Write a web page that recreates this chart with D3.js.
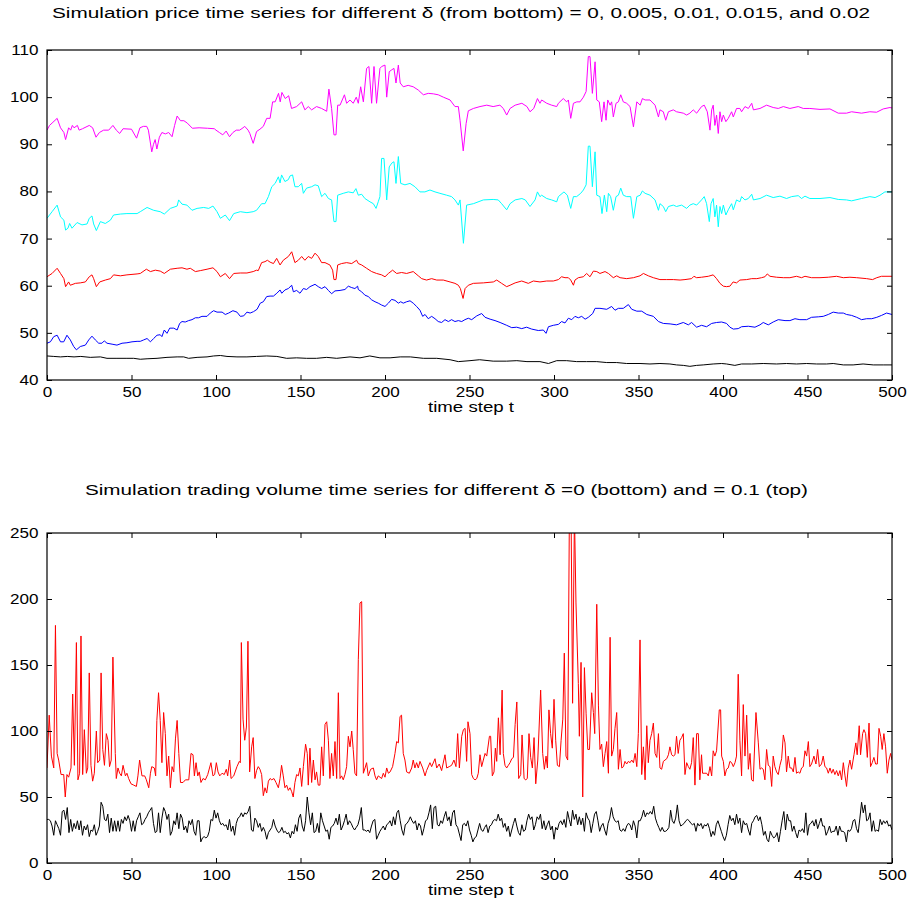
<!DOCTYPE html>
<html><head><meta charset="utf-8">
<script src="https://cdn.jsdelivr.net/npm/d3@7"></script>
<style>
body{margin:0;background:#fff;}
svg{display:block;font-family:"Liberation Sans",Arial,Helvetica,sans-serif;}
</style></head>
<body><svg id="chart" width="910" height="901"></svg>
<script>
// ---------- DATA ----------
const priceTitle = "Simulation price time series for different \u03b4 (from bottom) = 0, 0.005, 0.01, 0.015, and 0.02";
const volumeTitle = "Simulation trading volume time series for different \u03b4 =0 (bottom) and = 0.1 (top)";
const xLabel = "time step t";
const xTicks = [0,50,100,150,200,250,300,350,400,450,500];
const priceTicks = [40,50,60,70,80,90,100,110];
const volumeTicks = [0,50,100,150,200,250];

// price, delta = 0.02 (magenta)  [t, price]
const priceD020 = [[0,93],[1.5,94],[3,94.5],[6,95.5],[8,93.5],[10,92.5],[11,91],[12.8,93.5],[14,93],[15,94],[16,93.5],[18,94],[19,93],[21,93.3],[25,94],[27,93.5],[29,91.5],[31,92.5],[33.5,93],[36.5,93],[39,94],[41,93],[43,92.3],[45,93.3],[50,93.2],[53,91.3],[55,93.5],[57,93.8],[59,93.8],[60,93],[62,88.4],[63,90],[64,91],[65,89],[66.5,91.5],[68,92.5],[70,92.2],[72,92.5],[74,91.6],[75.5,94],[77,96],[79,95],[81,95],[83,94.5],[86,93.4],[90,93.5],[95,93.4],[99,93.3],[100,93],[102,92.5],[104,92],[106,92.8],[108,91.6],[110,92.5],[112,93],[114,93],[116,93.5],[117,93.8],[119,93],[120,92.3],[122,90.2],[124,92.7],[126,93.2],[128,93.8],[130,95.5],[132,95.5],[133.5,99],[135,99],[137,100.8],[138,99],[139,101],[141,99.7],[143,100.3],[144.7,97.6],[147.7,98],[150.7,99],[152.6,97.3],[154.6,98],[156.6,97.3],[159.5,98],[162.5,97.6],[165.5,97],[166.8,101.7],[168.4,97.6],[169.8,92],[171,92],[172,98.3],[173.4,98.3],[176,100.5],[177.3,98.7],[179.3,99.4],[181.2,98.7],[183,100],[184.2,98.7],[185.6,102.2],[187.2,99],[189.1,106.1],[190.5,106.5],[192.1,98.7],[193.5,106.5],[195,98.7],[197,106.1],[198,106.5],[200,106.8],[201,100],[202.5,105.4],[204,105.8],[205.3,106.1],[206.5,103],[207.9,106.8],[209,103],[210.8,102.2],[213.7,102.5],[216.7,102.2],[219.7,101.5],[222.7,100.5],[225.6,100.8],[228.6,100.7],[231.5,100.5],[234.5,100],[238.5,99.4],[241.4,98],[243.4,98],[244.4,95.1],[246.3,88.6],[248,94.4],[249.3,97.1],[252.3,97.6],[256.2,98],[260.2,98.3],[264,98],[268,98.3],[270,97.6],[272,96.2],[274,97.6],[277,98.3],[281,98.7],[284,98],[285.8,96.9],[288,97.6],[290.2,99.7],[291.7,98.7],[292.7,99.4],[295.7,98.7],[298.6,98.3],[301.6,98],[302.6,98.7],[305.5,99.7],[307.5,99],[308.5,99.4],[309.9,95.5],[311.5,98.7],[313.5,99],[315.4,99],[317.4,100],[319,101.2],[320.3,108.6],[321.3,108.6],[322.7,100.8],[324.3,107.5],[325.3,99.4],[326.8,99],[328.2,94.8],[329.6,99],[330.8,95.1],[331.8,99.4],[333.2,98.3],[334.1,99],[335.1,95.8],[336.7,98.7],[338.1,99],[339.5,100.5],[341,99],[343,98.7],[345,98],[347,93.7],[349,99],[351,98.3],[352.3,99.7],[353.9,99.4],[356.8,99.4],[359.8,98.3],[361.8,95.8],[362.7,97.3],[364.7,96.9],[366.1,95.1],[367.7,96.9],[370.6,97.3],[372.5,96.9],[376.5,96.6],[378.5,96.2],[380.4,96.6],[382.4,97.3],[384.4,96.6],[387.3,98],[388.9,98.3],[390.7,96.9],[392.3,93],[393.3,97.3],[394.2,98.3],[395.2,94],[396.2,96.2],[397.2,92.3],[398.2,96.9],[399.2,94.8],[400.2,96.2],[401.7,94.8],[403.1,95.5],[405.1,96.9],[406.1,95.8],[408,97.6],[410,97.6],[411,96.9],[413,98],[415,97.6],[417,98.7],[418,97.3],[421.9,97.6],[425.8,98.3],[429.7,97.8],[432.7,97.6],[435.7,98],[439.6,97.6],[444.5,98],[447.5,97.6],[451.4,97.6],[457.4,97.4],[463.3,97.5],[468.2,96.6],[473.1,96.6],[476.1,96.9],[482,96.6],[486.9,96.9],[490.9,96.8],[494.8,97.5],[498.8,97.8],[500,97.7]];

// price, delta = 0.015 (cyan)
const priceD015 = [[0,74.3],[3,75.7],[6,77.1],[8,74.6],[10,73.9],[11,71.8],[12.4,72.2],[13.4,73.2],[14.8,72.2],[17.8,73.4],[20.7,72.9],[23.7,73.1],[25,74.3],[26.6,74.8],[27.6,73.1],[29.2,71.7],[31.6,73.6],[34.5,73.2],[37.5,73.9],[39.4,75],[43.4,75.2],[47.3,75.3],[53.3,75.3],[55.2,75.7],[59.2,76.6],[63.1,76],[67,75.7],[69.4,75.2],[73,76.4],[77,76.9],[77.9,78.2],[79.9,77.3],[82.8,77.1],[85.8,76],[88.8,76.4],[92.7,76.6],[95.7,76.4],[98.2,76.9],[100.6,75.7],[102.6,74.3],[105.5,75],[108,73.8],[110.5,75.3],[114.4,75.7],[118.3,75.5],[122,75.7],[124,76],[127,77.4],[129,77.4],[131,78.9],[133,81],[135,81.7],[136.9,83.1],[137.9,81.8],[138.8,83.5],[140.8,82.1],[142.8,82.5],[143.8,83.3],[145.3,83.5],[146.7,81],[148.7,81],[150.7,81.7],[151.7,79.6],[153.6,80.7],[156.6,81],[158.6,81.4],[160.5,81.2],[162.5,78.9],[164.5,79.6],[166.5,78.5],[168.4,78.2],[169.8,73.6],[171,73.6],[172,79.2],[175.3,79.6],[178.3,79.9],[181.2,79.7],[182.8,80.6],[184.2,79.2],[186.2,79.4],[188.1,78.5],[191.1,77.8],[193.1,77.4],[194.7,76.4],[196,77.8],[197,78.9],[198,87],[199.4,87],[201,78.2],[202.5,85.2],[204,86],[205.3,86.3],[206.5,81.7],[207.9,87.4],[209.3,81.7],[211.8,81.4],[214.8,81.7],[217.7,81],[220.7,79.9],[223.6,79.9],[226.6,80.3],[229.6,79.9],[232.5,79.6],[236.5,79.2],[239.4,78.9],[241.4,78.2],[243.4,77.1],[244.4,78.2],[246.4,69],[248.3,77.1],[252.3,77.4],[258.2,78.2],[264,78.3],[267,78.2],[269,77.4],[272,76.1],[274,77.4],[277,78.2],[281,78.5],[283,78.2],[285.8,76.8],[288.8,78.2],[290.2,79.9],[291.7,78.9],[292.7,79.2],[295.7,78.5],[298.6,78.2],[301.6,77.8],[302.6,78.9],[305.9,79.9],[307.9,79.2],[309.9,76.4],[311.5,78.9],[313.4,78.9],[315.8,79.6],[317.4,80.3],[319,81.4],[320.3,89.6],[321.3,89.6],[322.7,81],[324.3,88.4],[325.3,79.2],[327.2,78.9],[328.4,75.3],[329.8,79.2],[331.2,75.7],[332.2,79.6],[333.5,78.9],[335.1,76],[336.7,78.9],[338.1,79.2],[339.5,80.7],[341,79.2],[343,78.9],[345.4,78.9],[347,74.3],[349,78.9],[351,79.2],[352.3,80.1],[353.9,79.6],[356.8,79.2],[359.8,78.2],[361.8,76],[362.7,77.4],[364.7,76.8],[366.1,75.7],[367.7,76.8],[370.6,77.1],[372.5,76.8],[375.5,77.1],[378.5,76.4],[380.4,77.1],[382.4,77.4],[384.4,77.1],[387.3,78.2],[388.9,78.9],[390.3,77.4],[391.9,73.6],[392.9,77.4],[394.2,78.5],[395.2,74.6],[396.2,77.1],[397.2,72.5],[398.2,76.8],[399.2,75.3],[400.2,77.1],[401.7,75],[403.1,76.1],[405.1,77.4],[406.1,76.1],[408,78.2],[410,77.8],[411,78.9],[413,78.2],[415,78.5],[417,79.4],[418,78.2],[421.9,78.5],[425.8,79.2],[429.7,78.7],[433.7,79],[437.6,78.5],[440.6,78.9],[444.5,79.1],[446.5,78.5],[448.5,79],[451.4,78.5],[457.4,78.5],[463.3,78.7],[468.2,78.3],[473.1,78.2],[476.1,78],[482,78.5],[486.9,78.9],[490,78.7],[492.9,79.2],[495.8,79.9],[500,79.9]];

// price, delta = 0.01 (red)
const priceD010 = [[0,61.9],[3,62.6],[6,63.7],[8,62.6],[10,61.5],[11,59.8],[12.8,60.8],[13.8,60.1],[16.8,60.5],[19.7,60.6],[22.7,60.8],[25,61.9],[26.6,62.3],[27.6,61.5],[29.2,59.8],[31.2,60.8],[34.5,61.2],[37.5,61.5],[39.4,62.3],[43.4,62.1],[47.3,62.3],[53.3,62.5],[55.2,62.6],[58.8,63.5],[61.2,63],[64.1,63.3],[67,63.1],[69.4,62.6],[73,63.5],[77,63.7],[79.9,63.8],[82.8,63.5],[84.8,63.7],[87.8,63],[90.7,63.2],[94.7,63.5],[98.2,63.8],[100.6,63],[102.6,61.9],[105.5,62.6],[108,61.5],[110.5,62.6],[114.4,62.7],[118.3,62.7],[122,63],[124,63.3],[125,63.2],[127,64.9],[129,65.1],[130.4,65.4],[132,65],[134,64.7],[135.9,65.8],[137.9,64.4],[139.8,65.4],[142.8,66.2],[144.8,67.2],[146.7,64.9],[148.7,65.4],[150.7,66.2],[152.6,65.4],[154.6,66.2],[156.6,65.8],[158.6,66.9],[160.5,66.2],[162.5,64.9],[164.5,64.9],[167.4,64.4],[169,63.3],[169.8,61.3],[171,61.3],[172,64.4],[174.3,64.7],[177.3,64.9],[180.3,64.7],[183.2,65.4],[184.2,64.7],[186.2,64.4],[189.1,63.7],[192.1,63],[195,62.6],[198,62.3],[200,61.9],[202,62.6],[204.5,63.3],[206.9,62.6],[209.8,62.8],[212.8,62.6],[216.7,63],[219.7,62.1],[221.7,61.5],[224.6,61.2],[227.6,61.5],[230.6,61.2],[234.5,61.2],[238.5,60.8],[241.4,60.5],[243.4,60.1],[244.6,59.4],[246.2,57.3],[247.4,59.4],[249.3,60.1],[252.3,60.5],[258.2,60.6],[264.1,60.8],[266.1,61.2],[269,60.5],[272,59.8],[274,60.1],[277,60.6],[280.9,61],[284.8,60.5],[287.8,61],[291.7,60.8],[295.7,61],[299.6,61],[302.6,61.3],[304.5,61.9],[306.5,61.7],[308.5,61.7],[309.9,61.2],[311.5,60.1],[312.4,61.2],[314.4,61.7],[317.4,61.9],[319.3,62.6],[321.3,61.9],[323.3,63.1],[325.3,63],[327.2,62.6],[330.2,63],[332.2,62.6],[335.1,61.7],[337.1,62.1],[339.1,61.7],[343,61.5],[347,61.7],[350.9,62.1],[352.9,62.6],[355.8,62.1],[358.8,61.7],[362.7,61.3],[366.7,61.3],[370.6,61.3],[374.6,61.2],[377.5,61.3],[381.4,61.5],[382.8,62],[384.4,61.7],[387.3,61.8],[391.3,62],[394.2,62.3],[396.2,61.5],[398.2,60.5],[400.2,59.9],[402.1,59.8],[404.1,59.9],[406,60.8],[408,60.6],[410,61.2],[414,61.3],[417,61.5],[420,61.5],[422.8,61.7],[424.8,61.9],[426.2,62.5],[427.8,62],[431.7,61.8],[435.7,61.7],[439.6,61.7],[443.5,62],[446.5,61.7],[448.5,62],[452.4,61.7],[457.4,61.7],[462.3,61.8],[467.2,62],[471.2,61.7],[475.1,61.8],[479.1,61.7],[485,61.5],[488.5,61.3],[491,61.7],[493.8,62],[500,62]];

// price, delta = 0.005 (blue)
const priceD005 = [[0,47.8],[2,48.1],[4,49.2],[6,49.5],[8,48.1],[9.9,48.1],[11.8,49.5],[13.8,48.5],[15.8,47.1],[17.4,46.4],[19.7,47.1],[22.7,47.4],[24.7,48.5],[26.6,49.3],[28.6,48.5],[30.6,47.8],[32.5,47.8],[33.9,48.3],[35.5,47.8],[38.5,47.6],[41.4,47.4],[44.4,47.8],[47.3,47.9],[50.3,48.1],[53.3,48.2],[55.2,48.2],[57.2,48.5],[59.2,48.8],[61.2,48.1],[63.1,48.8],[65.1,49.5],[67,49.6],[68,49.2],[69.4,50.6],[71,49.9],[72.6,51],[75,51],[77,50.6],[78.5,52],[79.9,52.4],[81.8,52.3],[83.8,52.6],[85.8,52.8],[87.8,53.2],[89.7,53.2],[91.7,53.5],[94.7,53.5],[96.6,54.2],[98.6,54.7],[100.6,54.4],[103.6,54.4],[105.5,53.9],[107.5,54.2],[110,54.7],[112.4,54.4],[114.4,53.5],[116.4,53.6],[118.3,54.4],[120.2,54.2],[122.2,54.5],[124.3,55],[126.2,56.3],[128,56.6],[130,57.7],[132,57.8],[134,57.8],[136,58.4],[137.9,59.1],[138.9,58.4],[140.8,59.1],[142.8,59.4],[144.8,60.1],[145.8,58.7],[147.7,59],[149.7,58.4],[151.7,59.4],[153.6,59.2],[155.6,59.8],[158.6,60.3],[160.5,59.8],[162.5,59.4],[164.5,59.8],[166.5,59],[168.4,58.3],[170.4,58.9],[173.4,59],[176.3,59.2],[178.3,59.9],[180.3,59.6],[182.2,59.4],[183.8,59.9],[184.2,59.2],[186.2,58.7],[188.1,58],[190.1,57.7],[192.1,57],[194.1,56.6],[196,56.3],[198,55.9],[200,55.6],[202,56.3],[203.9,57.1],[205.9,56.9],[207.9,56.3],[209.3,56.6],[210.8,56.3],[212.8,56.6],[214.8,56.8],[216.7,56.3],[218.7,55.6],[220.7,54.8],[222.3,53.5],[223.7,53.9],[225.6,53],[227.6,53.5],[229.6,53],[231.5,52.4],[233.5,52.2],[235.5,52.8],[237.5,52.4],[239.4,52.8],[241.4,52.4],[243.4,52.6],[245.4,52.4],[247.3,52.8],[249.3,53.1],[251.3,52.8],[254.3,53.6],[257.2,54.1],[259.2,53.3],[262.2,52.9],[265.1,52.6],[268.1,52.2],[272,51.6],[275,51.1],[277.9,51.2],[280.9,50.9],[283.8,51.2],[286.8,50.8],[290.7,50.5],[293.7,50.6],[295.3,49.9],[296.7,51.3],[299.6,51.6],[302.6,51.8],[304.5,52.4],[306.5,52.1],[308.5,53.1],[310.5,52.8],[312.4,53.5],[314.4,53.2],[316.4,53.5],[318.4,52.9],[320.3,53.3],[322.9,54.1],[324.3,55.2],[327.2,55.2],[331.2,55],[334.1,55.6],[336.1,54.8],[338.1,55.2],[341,55.2],[344,56],[346,55],[349,54.6],[351.9,54.6],[354.9,53.9],[358.8,53.5],[361.8,52.4],[364.7,52],[368.7,51.9],[372.5,51.7],[376.5,52.2],[379.5,51.7],[381.4,52.2],[384.4,51.2],[387.3,51.6],[390.3,51.3],[393.3,52],[396.2,52.2],[399.2,52.3],[402.1,52],[404.1,51.2],[406.1,50.8],[409,50.9],[411,51.3],[415,51.4],[418.9,51.2],[421.9,51.7],[423.8,52.2],[426.8,51.7],[429.7,52.3],[432.7,52.8],[436.7,52.6],[439.6,52.6],[442.6,53],[445.5,52.8],[449.5,52.8],[452.4,53.3],[456.4,53.4],[459.3,53.5],[462.3,53.9],[465.2,54.4],[468.2,54.2],[471.2,54.2],[473.1,53.9],[476.1,53.7],[479.1,53.3],[482,52.8],[485,53],[488,53],[491,53.3],[493.8,53.7],[496.8,54.2],[500,53.9]];

// price, delta = 0 (black)
const priceD000 = [[0,45.1],[4,45],[8,44.9],[12,45],[16,44.9],[20,45],[25.6,44.8],[31.6,44.9],[35.5,44.6],[41.4,44.6],[47.3,44.6],[51.3,44.6],[55.2,44.4],[59.2,44.5],[65.1,44.6],[71,44.8],[77,44.9],[80.9,44.9],[83.8,44.6],[88.8,44.8],[94.7,44.9],[98.6,45.1],[102.6,45.2],[106.5,45],[112.4,44.9],[118.3,44.9],[124,45],[130,45.1],[136,45],[141.8,44.6],[147.7,44.7],[153.6,44.6],[159.5,44.6],[165.5,44.8],[171.4,44.6],[179.3,44.9],[185.2,44.7],[191,45.1],[197,44.7],[203,44.7],[209,44.9],[215,44.9],[222.7,44.6],[230.6,44.6],[238.5,44.3],[243.4,43.9],[250.3,44.1],[256,44.3],[264,44],[272,44],[278,44.1],[284,43.9],[291.7,43.9],[296.7,43.5],[301.6,44.1],[307.5,44.1],[313.4,43.9],[319.3,43.9],[325.3,43.9],[331.2,43.7],[337.1,43.7],[343,43.5],[350.9,43.5],[356.8,43.4],[362.7,43.5],[368.6,43.4],[372.5,43.2],[376.5,43.1],[380.4,42.9],[384.4,43.1],[388.3,43.2],[394.2,43.4],[399.2,43.5],[402.1,43.4],[407,43.1],[411,43.4],[417,43.4],[423.8,43.5],[431.7,43.4],[437.6,43.5],[443.5,43.4],[449.5,43.5],[455.4,43.4],[461.3,43.4],[465.2,43.5],[471.2,43.2],[477,43.2],[482.9,43.4],[488.9,43.2],[494.8,43.2],[500,43.2]];

// trading volume, delta = 0.1 (red)  [t, volume]
const volumeD01 = [[0,72],[1.3,112],[2.6,81],[4,72],[5,180],[6,83],[6.9,78],[8.3,67],[9.9,67],[10.8,50],[11.8,67],[12.8,65],[14.2,72],[15.2,128],[16.2,74],[17.4,167],[18.3,63],[19.3,68],[20.1,172],[21.1,67],[22.1,101],[23.3,68],[24.1,72],[25,144],[26,74],[27,62],[28,68],[29.2,100],[30,76],[31.2,78],[32,144],[33,86],[34,74],[35.1,98],[36.1,93],[37,73],[38,78],[39,156],[40.4,83],[41,64],[42,72],[43,68],[44,66],[45,74],[46.4,66],[47.3,68],[48.3,64],[49.7,60],[51.3,59],[52.9,58],[53.8,66],[54.8,78],[56.2,66],[57.8,66],[58.8,63],[60.2,57],[61.2,68],[62,73],[63.5,72],[64.3,66],[65,108],[66,129],[67,108],[68,76],[69,114],[70,98],[71,66],[72,81],[73,57],[74,73],[75,69],[76,94],[77,108],[78,83],[79,61],[80.5,61],[81.9,63],[83.9,63],[85.2,83],[86.4,82],[87.2,66],[88.2,76],[89.2,66],[90.1,69],[91.1,61],[92.3,64],[93.7,63],[95.1,67],[97,76],[98.2,66],[99.2,67],[100.2,76],[101.2,69],[102.2,66],[103.6,68],[104.9,67],[106.1,71],[106.9,66],[108.1,78],[108.9,64],[110.5,66],[112.4,73],[113.8,77],[114.4,76],[115,167],[116,109],[117,93],[118,103],[118.9,168],[119.9,69],[121.1,88],[122,95],[123,64],[124,70],[125,73],[126,71],[127,67],[128,51],[129,57],[130,53],[131,62],[132,64],[133,63],[134.3,64],[135.5,61],[136.9,57],[137.9,64],[138.8,74],[139.8,66],[140.8,57],[141.8,59],[142.8,55],[143.8,57],[144.8,54],[145.7,50],[146.7,61],[147.7,67],[148.7,66],[149.7,72],[150.7,58],[151.7,73],[153,90],[154,83],[154.6,59],[155.6,87],[156.6,61],[157.6,78],[158.6,63],[159.5,69],[160.5,59],[161.5,59],[162.5,88],[163.5,66],[164.5,105],[165.5,107],[166.5,93],[167.4,64],[168.4,83],[169.4,66],[170.4,92],[171.4,64],[172.4,129],[173.4,64],[174.3,66],[175.3,63],[176.3,67],[177.3,73],[178.3,96],[179.3,88],[180.3,100],[181.2,86],[182.2,68],[183.2,66],[184.2,154],[185.2,197],[186.2,198],[187.2,68],[188.2,72],[189.1,76],[190.1,66],[191.5,71],[193.1,72],[194.1,66],[195,63],[196,66],[198,64],[199,68],[200,65],[201,72],[202,68],[203,69],[204.5,73],[205.9,83],[206.9,92],[207.9,91],[208.9,111],[209.8,112],[210.8,83],[211.8,78],[212.8,69],[214.4,68],[215.8,72],[216.7,78],[217.7,72],[218.7,76],[219.7,72],[220.7,77],[222.3,72],[223.7,66],[224.6,70],[226.6,76],[227.6,73],[229.6,79],[230.6,72],[232.1,75],[233.5,70],[235.5,82],[236.5,72],[238,73],[239.4,74],[240.8,78],[242,73],[243,98],[244,72],[245.4,96],[246.4,101],[247.4,102],[248.3,77],[249.1,107],[250.3,98],[251.3,67],[252.3,64],[253.3,63],[254.3,64],[255.2,68],[256.2,82],[257.2,73],[258.2,78],[259.2,83],[260.2,81],[261.8,96],[262.5,96],[263.5,66],[264.5,69],[265.3,87],[266.1,77],[267.1,110],[268.1,82],[269.3,131],[270,83],[271,74],[272,72],[273,74],[274,76],[275,79],[276,80],[277,105],[278,122],[279.1,64],[280.3,67],[281.1,97],[282.3,64],[283.3,63],[284.2,64],[285.2,98],[286.2,80],[287.2,72],[288.2,95],[289.2,60],[290.4,78],[292.1,131],[293.3,83],[294.3,71],[295.3,81],[296.1,72],[297,116],[298,98],[299,87],[300,124],[301,93],[302,74],[303.2,73],[304.2,93],[305.2,109],[306.1,159],[307.1,81],[308.1,78],[309.1,265],[310.1,265],[311,121],[312.1,265],[313,197],[314.4,136],[315,96],[316,152],[317,50],[318,148],[319,113],[320,86],[321,86],[322.3,129],[323.3,114],[324.1,98],[325.3,196],[326.3,119],[327.2,86],[328.2,90],[329.2,73],[330.2,83],[331.2,92],[332.2,68],[333.2,171],[334.1,81],[335.1,86],[336.1,102],[337.1,114],[338.1,71],[339.1,86],[340.1,72],[341.1,73],[342,77],[343,75],[344,77],[345,76],[346,78],[347,76],[348,83],[349,73],[349.9,98],[350.9,169],[351.9,67],[352.9,88],[353.9,63],[354.9,104],[355.8,76],[356.8,93],[357.8,98],[358.8,106],[359.8,83],[360.8,80],[361.8,98],[362.7,72],[363.7,71],[364.7,77],[366.7,79],[367.7,82],[368.6,88],[369.6,82],[370.6,81],[371.6,82],[372.5,96],[373.5,83],[374.5,93],[375.5,95],[376.5,98],[377.5,67],[378.5,76],[379.5,73],[380.4,71],[381.4,76],[382.4,95],[383.4,59],[384.4,98],[385.4,98],[386.3,63],[387.3,82],[387.9,68],[389.3,68],[390.3,68],[391.3,66],[392.3,73],[393.3,66],[394.2,85],[395.2,81],[396.2,85],[397.8,116],[398.6,116],[399.2,81],[400.2,77],[401.1,66],[402.1,71],[403.1,72],[404.1,77],[405.1,76],[406.1,73],[407.1,76],[408,81],[409,143],[410,93],[411,66],[412,120],[413,81],[414,112],[415,71],[416,83],[416.9,63],[417.9,62],[419.5,114],[420.9,91],[421.9,71],[422.8,72],[423.8,71],[424.8,63],[425.8,86],[426.8,74],[427.8,73],[428.8,58],[429.7,81],[430.7,73],[431.7,69],[432.7,67],[433.7,74],[434.7,79],[435.7,97],[436.7,91],[437.6,69],[438.6,81],[439.6,72],[440.6,72],[441.6,69],[442.6,80],[443.5,68],[444.5,69],[445.5,68],[446.5,72],[447.5,73],[448.5,85],[449.5,81],[450.5,92],[451.4,73],[452.4,75],[453.8,81],[455,75],[456,86],[457,73],[458.3,75],[459.3,81],[460.3,73],[461.3,72],[462.3,68],[463.3,72],[464.3,68],[465.2,71],[466.2,67],[467.2,70],[468.2,66],[469.2,70],[470.2,63],[471.2,76],[472.2,66],[473.1,58],[474.1,72],[475.1,78],[476.1,71],[477.5,82],[478.6,91],[479.4,82],[480.6,104],[481.4,82],[482.6,98],[483.4,101],[484.4,98],[485.4,80],[486.4,106],[487.3,73],[488.3,76],[489.3,80],[490.3,75],[491.3,75],[492.3,102],[493.3,96],[494.2,86],[495.2,98],[496.2,88],[497.2,68],[498.2,78],[499.2,83],[500,78]];

// trading volume, delta = 0 (black): one value per time step t = 0..500
const volumeD0 = [
33,33,32,28,21,32,29,26,21,39, 40,33,42,23,33,24,30,26,32,25, 32,21,28,25,29,20,25,24,29,21, 24,28,46,43,33,32,37,23,34,24,
32,24,32,24,33,30,35,32,36,32, 24,32,24,32,35,38,29,30,33,35, 38,40,42,30,23,24,38,23,34,42, 39,33,37,21,24,32,29,38,26,37,
34,25,28,23,32,29,33,24,21,32, 32,16,19,20,19,20,24,33,32,40, 34,38,32,29,30,28,29,25,33,24, 28,21,30,34,35,38,35,38,37,39,
43,25,24,34,32,27,30,24,27,24, 18,23,25,27,33,28,25,23,24,27, 23,24,22,23,19,24,22,29,24,34, 37,28,24,32,50,38,29,38,23,24,
30,23,38,32,28,24,25,18,27,28, 30,34,29,37,25,28,32,37,29,32, 30,27,25,27,29,34,42,25,25,24, 25,23,28,32,33,18,21,24,26,28,
25,29,30,32,28,35,29,38,40,32, 25,21,29,30,32,35,32,30,32,25, 30,28,21,26,32,33,38,44,26,42, 43,29,28,32,30,35,39,32,35,28,
38,40,29,27,22,17,29,30,28,32, 25,21,16,19,20,25,30,25,24,27, 29,23,28,29,32,33,32,37,32,34, 27,30,24,28,20,25,30,34,28,23,
21,29,24,25,32,37,33,35,25,29, 35,33,37,26,32,25,29,32,25,28, 18,27,25,30,32,29,33,27,39,33, 28,40,33,37,29,35,29,34,24,38,
34,32,23,30,37,39,32,24,28,30, 25,21,30,34,42,35,32,31,32,25, 24,26,24,28,30,29,25,32,28,19, 32,32,35,40,35,38,37,39,37,43,
34,30,27,24,27,24,24,25,27,
40,32,30,34,44,32,28,29,30,32, 33,32,30,29,30,24,30,28,30, 26,29,28,30,26,20,24,21,29,32, 28,24,20,17,21,29,36,32,34,29,
37,30,34,23,32,29,30,25,21,30, 32,35,36,32,35,29,21,24,18,16, 24,21,19,20,23,16,24,32,39,25, 37,32,32,24,28,23,19,25,24,26,
23,38,21,29,30,32,28,33,26,30, 34,28,28,21,24,28,23,24,24, 28,21,28,24,24,23,16,25,24,26, 32,33,26,23,34,46,38,44,32,33,
38,24,32,24,25,24,33,29,32,30, 32,28,29,25
];

// ---------- DRAW ----------
const svg = d3.select("#chart");
const FONT = '"Liberation Sans", Arial, Helvetica, sans-serif';
const X0 = 47, X1 = 892;

function panel(top, bottom, yDomain, yTickVals, series, titleText, titleX, titleLen, titleY, id) {
  const x = d3.scaleLinear().domain([0, 500]).range([X0, X1]);
  const y = d3.scaleLinear().domain(yDomain).range([bottom, top]);
  const g = svg.append("g");

  svg.append("clipPath").attr("id", id).append("rect")
    .attr("x", X0).attr("y", top).attr("width", X1 - X0).attr("height", bottom - top);

  const lines = g.append("g").attr("clip-path", `url(#${id})`);
  const line = d3.line().x(d => x(d[0])).y(d => y(d[1]));
  series.forEach(s => {
    lines.append("path").datum(s.data)
      .attr("fill", "none").attr("stroke", s.color)
      .attr("stroke-width", 1.0).attr("stroke-linejoin", "round")
      .attr("d", line);
  });

  const styleAxis = (sel, labels) => {
    sel.select(".domain").remove();
    sel.selectAll(".tick line").attr("stroke", "#000").attr("stroke-width", 1);
    sel.selectAll(".tick text").attr("fill", "#000")
      .style("font-family", FONT).style("font-size", "14px");
    if (!labels) sel.selectAll(".tick text").remove();
  };

  const bottomAx = g.append("g").attr("transform", `translate(0,${bottom})`)
    .call(d3.axisBottom(x).tickValues(xTicks).tickSizeInner(-5).tickSizeOuter(0).tickPadding(7));
  styleAxis(bottomAx, true);
  bottomAx.selectAll(".tick text").attr("transform", "scale(1.22,1)");

  const topAx = g.append("g").attr("transform", `translate(0,${top})`)
    .call(d3.axisTop(x).tickValues(xTicks).tickSizeInner(-5).tickSizeOuter(0));
  styleAxis(topAx, false);

  const leftAx = g.append("g").attr("transform", `translate(${X0},0)`)
    .call(d3.axisLeft(y).tickValues(yTickVals).tickSizeInner(-5).tickSizeOuter(0).tickPadding(7));
  styleAxis(leftAx, true);
  leftAx.selectAll(".tick text").attr("transform", "scale(1.22,1)");

  const rightAx = g.append("g").attr("transform", `translate(${X1},0)`)
    .call(d3.axisRight(y).tickValues(yTickVals).tickSizeInner(-5).tickSizeOuter(0));
  styleAxis(rightAx, false);

  g.append("rect").attr("x", X0).attr("y", top).attr("width", X1 - X0).attr("height", bottom - top)
    .attr("fill", "none").attr("stroke", "#000").attr("stroke-width", 1.2);

  svg.append("text").attr("x", titleX).attr("y", titleY)
    .attr("textLength", titleLen).attr("lengthAdjust", "spacingAndGlyphs")
    .style("font-family", FONT).style("font-size", "14px").attr("fill", "#000")
    .text(titleText);

  svg.append("text").attr("x", 428).attr("y", bottom + 32)
    .attr("textLength", 86).attr("lengthAdjust", "spacingAndGlyphs")
    .style("font-family", FONT).style("font-size", "14px").attr("fill", "#000")
    .text(xLabel);
}

panel(50, 380, [40, 110], priceTicks, [
  { data: priceD000, color: "#000000" },
  { data: priceD005, color: "#0000ff" },
  { data: priceD010, color: "#ff0000" },
  { data: priceD015, color: "#00ffff" },
  { data: priceD020, color: "#ff00ff" }
], priceTitle, 52, 818, 18, "clipPrice");

const volumeLow = volumeD0.map((v, i) => [i, v]);
panel(533, 863, [0, 250], volumeTicks, [
  { data: volumeD01, color: "#ff0000" },
  { data: volumeLow, color: "#000000" }
], volumeTitle, 85, 723, 495, "clipVolume");
</script>
</body></html>
